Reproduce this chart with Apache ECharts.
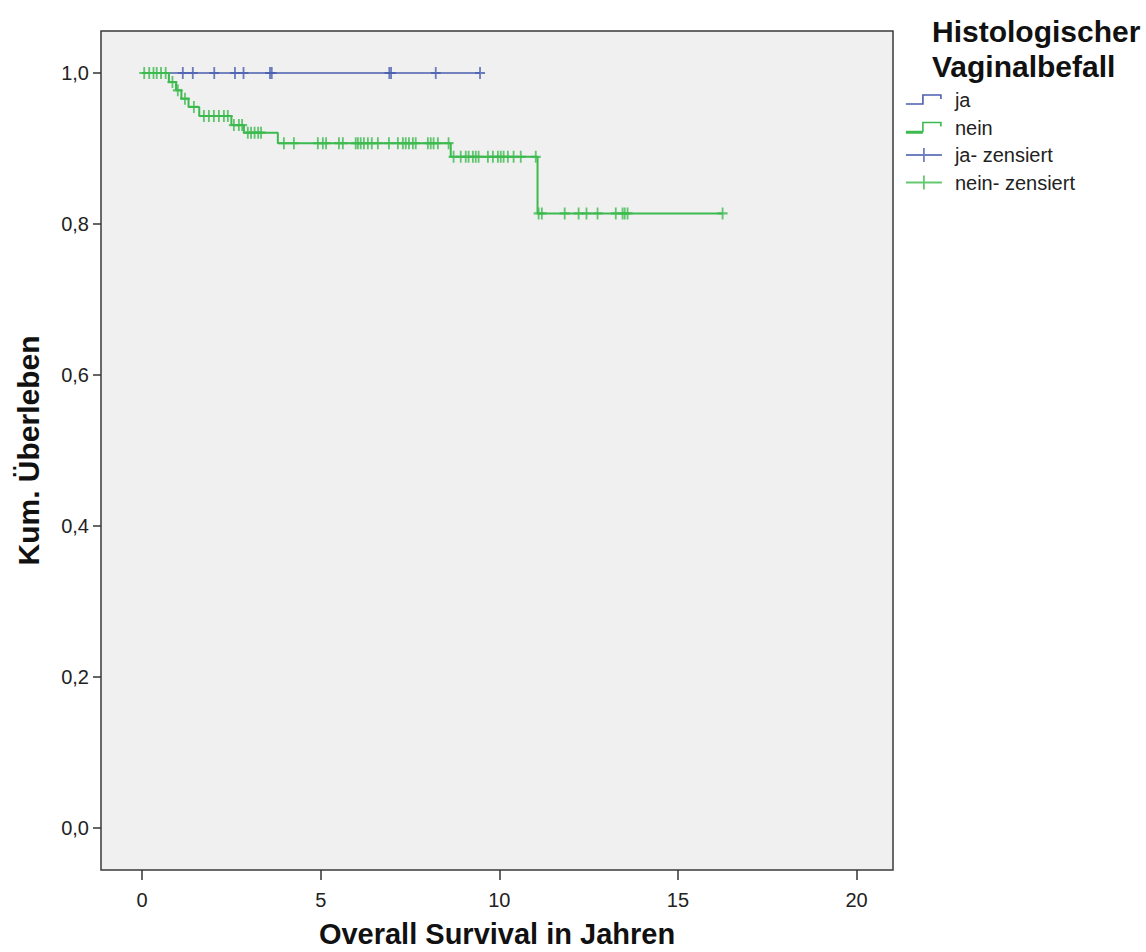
<!DOCTYPE html>
<html>
<head>
<meta charset="utf-8">
<title>Kaplan-Meier: Histologischer Vaginalbefall</title>
<script src="https://cdn.jsdelivr.net/npm/echarts@6/dist/echarts.min.js"></script>
<style>
  html, body { margin: 0; padding: 0; background: #ffffff; }
  #chart { width: 1146px; height: 952px; }
</style>
</head>
<body>
<div id="chart"></div>
<script>
// Kaplan-Meier steps: [time in years, survival after the event]
const jaSteps = [[0, 1.0], [9.46, 1.0]];
const neinSteps = [
  [0, 1.0], [0.75, 0.988], [0.95, 0.977], [1.1, 0.966], [1.3, 0.955],
  [1.6, 0.943], [2.5, 0.931], [2.85, 0.921], [3.8, 0.907],
  [8.64, 0.889], [11.07, 0.814], [16.25, 0.814]
];

// Censoring times (years)
const jaCensored = [1.14, 1.42, 2.02, 2.6, 2.84, 3.58, 3.63, 6.92, 6.97, 8.22, 9.46];
const neinCensored = [
  0.06, 0.2, 0.32, 0.41, 0.53, 0.66,
  0.85, 1.0, 1.2, 1.45,
  1.73, 1.87, 2.01, 2.15, 2.29, 2.4,
  2.57, 2.71, 2.8,
  2.96, 3.05, 3.15, 3.25, 3.33,
  3.97, 4.25, 4.92, 5.06, 5.15, 5.51, 5.62, 5.98, 6.04, 6.12, 6.21, 6.32, 6.43,
  6.6, 6.91, 7.16, 7.3, 7.38, 7.47, 7.58, 7.66, 8.0, 8.08, 8.16, 8.28, 8.58,
  8.72, 8.92, 9.06, 9.14, 9.26, 9.34, 9.42, 9.68, 9.82, 9.96, 10.04, 10.12,
  10.24, 10.4, 10.6, 11.02,
  11.1, 11.19, 11.83, 12.22, 12.44, 12.75, 13.26, 13.45, 13.51, 13.59, 16.25
];

// Axis ticks
const xTicks = [0, 5, 10, 15, 20];
const yTicks = [0, 0.2, 0.4, 0.6, 0.8, 1.0];

const groupNames = ['ja', 'nein', 'ja- zensiert', 'nein- zensiert'];
const colorJa = '#4b5fb0';
const colorNein = '#3dba4f';
const fontFamily = "'Liberation Sans', Arial, Helvetica, sans-serif";

// survival level of a step curve at time t
function levelAt(steps, t) {
  let s = steps[0][1];
  for (const [time, value] of steps) {
    if (time <= t) s = value; else break;
  }
  return s;
}
const censorPoints = (steps, times) => times.map(t => [t, levelAt(steps, t)]);

const plusSymbol = 'path://M5,0 L5,12 M0,6 L10,6';
const stepIcon = 'path://M0,0 M36,14 M0,11 L17,11 L17,2 L35,2 L35,6';
const stepIconBold = 'path://M0,0 M36,14 M0,11 L17,11 L17,2 L35,2 L35,6 M0,12.5 L17,12.5';
const plusIcon = 'path://M0,0 M36,14 M0,7 L36,7 M18,0 L18,14';
const clear = 'rgba(0,0,0,0)';

const chart = echarts.init(document.getElementById('chart'), null, { renderer: 'svg' });

chart.setOption({
  animation: false,
  backgroundColor: '#ffffff',
  textStyle: { fontFamily: fontFamily },
  title: {
    text: 'Histologischer\nVaginalbefall',
    left: 927,
    top: 9,
    textStyle: { fontFamily: fontFamily, fontSize: 30, fontWeight: 'bold', color: '#111', lineHeight: 35 }
  },
  legend: {
    orient: 'vertical',
    left: 900,
    top: 85,
    itemWidth: 36,
    itemHeight: 14,
    itemGap: 7.5,
    selectedMode: false,
    textStyle: { fontFamily: fontFamily, fontSize: 20, color: '#222', lineHeight: 20, padding: [0, 0, 0, 8] },
    data: [
      { name: groupNames[0], icon: stepIcon, itemStyle: { color: clear, borderColor: colorJa, borderWidth: 1.6 } },
      { name: groupNames[1], icon: stepIconBold, itemStyle: { color: clear, borderColor: colorNein, borderWidth: 1.6 } },
      { name: groupNames[2], icon: plusIcon, itemStyle: { color: clear, borderColor: colorJa, borderWidth: 1.8 } },
      { name: groupNames[3], icon: plusIcon, itemStyle: { color: clear, borderColor: colorNein, borderWidth: 1.8 } }
    ]
  },
  grid: {
    left: 101, top: 31, right: 253, bottom: 82,
    outerBoundsMode: 'none',
    containLabel: false,
    show: true,
    backgroundColor: '#f0f0f0',
    borderColor: '#3a3a3a',
    borderWidth: 1.5
  },
  xAxis: {
    type: 'value',
    min: -1.15,
    max: 21.02,
    name: 'Overall Survival in Jahren',
    nameLocation: 'middle',
    nameGap: 49,
    nameTextStyle: { fontFamily: fontFamily, fontSize: 29, fontWeight: 'bold', color: '#111' },
    axisLine: { show: false, onZero: false },
    splitLine: { show: false },
    axisTick: { show: true, customValues: xTicks, length: 10, lineStyle: { color: '#333', width: 1.5 } },
    axisLabel: { customValues: xTicks, margin: 20, fontSize: 20, color: '#222', fontFamily: fontFamily }
  },
  yAxis: {
    type: 'value',
    min: -0.0556,
    max: 1.0556,
    name: 'Kum. Überleben',
    nameLocation: 'middle',
    nameGap: 58,
    nameRotate: 90,
    nameTextStyle: { fontFamily: fontFamily, fontSize: 30, fontWeight: 'bold', color: '#111' },
    axisLine: { show: false, onZero: false },
    splitLine: { show: false },
    axisTick: { show: true, customValues: yTicks, length: 8, lineStyle: { color: '#333', width: 1.5 } },
    axisLabel: {
      customValues: yTicks,
      margin: 12,
      fontSize: 20,
      color: '#222',
      fontFamily: fontFamily,
      formatter: v => v.toFixed(1).replace('.', ',')
    }
  },
  series: [
    {
      name: groupNames[0],
      type: 'line',
      step: 'end',
      data: jaSteps,
      showSymbol: false,
      lineStyle: { color: colorJa, width: 1.6 },
      itemStyle: { color: colorJa },
      emphasis: { disabled: true },
      z: 2
    },
    {
      name: groupNames[1],
      type: 'line',
      step: 'end',
      data: neinSteps,
      showSymbol: false,
      lineStyle: { color: colorNein, width: 2 },
      itemStyle: { color: colorNein },
      emphasis: { disabled: true },
      z: 3
    },
    {
      name: groupNames[2],
      type: 'scatter',
      data: censorPoints(jaSteps, jaCensored),
      symbol: plusSymbol,
      symbolSize: [10, 12],
      itemStyle: { color: clear, borderColor: colorJa, borderWidth: 2 },
      emphasis: { disabled: true },
      z: 4
    },
    {
      name: groupNames[3],
      type: 'scatter',
      data: censorPoints(neinSteps, neinCensored),
      symbol: plusSymbol,
      symbolSize: [10, 12],
      itemStyle: { color: clear, borderColor: colorNein, borderWidth: 2 },
      emphasis: { disabled: true },
      z: 5
    }
  ]
});
</script>
</body>
</html>
